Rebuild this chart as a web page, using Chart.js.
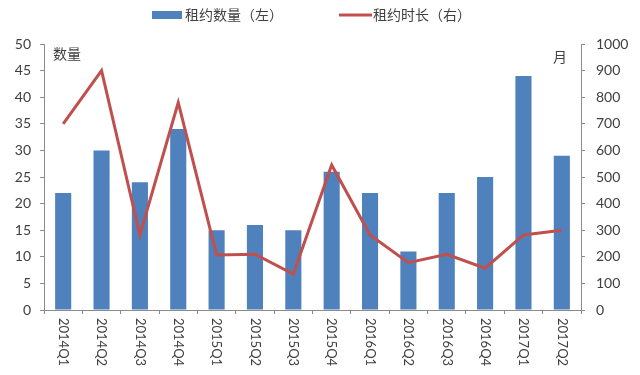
<!DOCTYPE html>
<html>
<head>
<meta charset="utf-8">
<script src="https://cdn.jsdelivr.net/npm/chart.js@4/dist/chart.umd.min.js"></script>
<style>
html,body{margin:0;padding:0;background:#fff;}
#wrap{width:640px;height:375px;position:relative;}
</style>
</head>
<body>
<div id="wrap"><canvas id="c" width="640" height="375"></canvas></div>
<script>
const categories = ["2014Q1","2014Q2","2014Q3","2014Q4","2015Q1","2015Q2","2015Q3","2015Q4","2016Q1","2016Q2","2016Q3","2016Q4","2017Q1","2017Q2"];
const leaseCount = [22,30,24,34,15,16,15,26,22,11,22,25,44,29];
const leaseMonths = [700,900,282,780,207,210,135,545,282,178,209,157,282,300];
const seriesNames = ["租约数量（左）","租约时长（右）"];
const leftAxisTitle = "数量";
const rightAxisTitle = "月";

const BLUE = "#4F81BD";
const RED = "#C0504D";
const AXIS = "#8c8c8c";
const TEXT = "#404040";
const CJK = "'Noto Sans CJK SC', sans-serif";
const NUM = "Lato, 'Open Sans', sans-serif";

const overlay = {
  id: "overlay",
  afterDraw(chart) {
    const ctx = chart.ctx;
    const xs = chart.scales.x;
    const area = chart.chartArea;
    ctx.save();
    // rotated category labels (reading top to bottom)
    ctx.fillStyle = TEXT;
    ctx.font = "13px " + NUM;
    ctx.textAlign = "left";
    ctx.textBaseline = "middle";
    categories.forEach((lab, i) => {
      const x = xs.getPixelForValue(i);
      ctx.save();
      ctx.translate(x, area.bottom + 8);
      ctx.rotate(Math.PI / 2);
      ctx.fillText(lab, 0, 0);
      ctx.restore();
    });
    // axis titles
    ctx.font = "14px " + CJK;
    ctx.textBaseline = "middle";
    ctx.textAlign = "left";
    ctx.fillText(leftAxisTitle, area.left + 9, area.top + 10);
    ctx.textAlign = "right";
    ctx.fillText(rightAxisTitle, area.right - 14, area.top + 13);
    // legend
    const ly = 15;
    ctx.fillStyle = BLUE;
    ctx.fillRect(152, ly - 4, 30, 8);
    ctx.fillStyle = TEXT;
    ctx.textAlign = "left";
    ctx.font = "14px " + CJK;
    ctx.fillText(seriesNames[0], 185, ly);
    ctx.strokeStyle = RED;
    ctx.lineWidth = 3;
    ctx.beginPath();
    ctx.moveTo(339, ly);
    ctx.lineTo(372, ly);
    ctx.stroke();
    ctx.fillText(seriesNames[1], 373, ly);
    ctx.restore();
  }
};

new Chart(document.getElementById("c"), {
  data: {
    labels: categories,
    datasets: [
      {
        type: "line",
        label: seriesNames[1],
        data: leaseMonths,
        yAxisID: "y2",
        borderColor: RED,
        backgroundColor: RED,
        borderWidth: 3,
        pointRadius: 0,
        tension: 0,
        order: 0
      },
      {
        type: "bar",
        label: seriesNames[0],
        data: leaseCount,
        yAxisID: "y",
        backgroundColor: BLUE,
        barPercentage: 0.42,
        categoryPercentage: 1,
        order: 1
      }
    ]
  },
  plugins: [overlay],
  options: {
    responsive: false,
    animation: false,
    layout: { padding: { top: 44, left: 0, right: 0, bottom: 0 } },
    plugins: { legend: { display: false }, tooltip: { enabled: false } },
    scales: {
      x: {
        offset: true,
        grid: { display: true, drawOnChartArea: false, drawTicks: true, tickLength: 4, color: AXIS, offset: true },
        border: { display: true, color: AXIS, width: 1 },
        ticks: { display: false },
        afterFit(s) { s.height = 65; }
      },
      y: {
        position: "left",
        min: 0, max: 50,
        ticks: { stepSize: 5, color: TEXT, font: { family: NUM, size: 14 }, padding: 9, callback: v => String(v) },
        grid: { drawOnChartArea: false, drawTicks: true, tickLength: 4, color: AXIS },
        border: { display: true, color: AXIS, width: 1 },
        afterFit(s) { s.width = 44; }
      },
      y2: {
        position: "right",
        min: 0, max: 1000,
        ticks: { stepSize: 100, color: TEXT, font: { family: NUM, size: 14 }, padding: 11, callback: v => String(v) },
        grid: { drawOnChartArea: false, drawTicks: true, tickLength: 4, color: AXIS },
        border: { display: true, color: AXIS, width: 1 },
        afterFit(s) { s.width = 59; }
      }
    }
  }
});
</script>
</body>
</html>
